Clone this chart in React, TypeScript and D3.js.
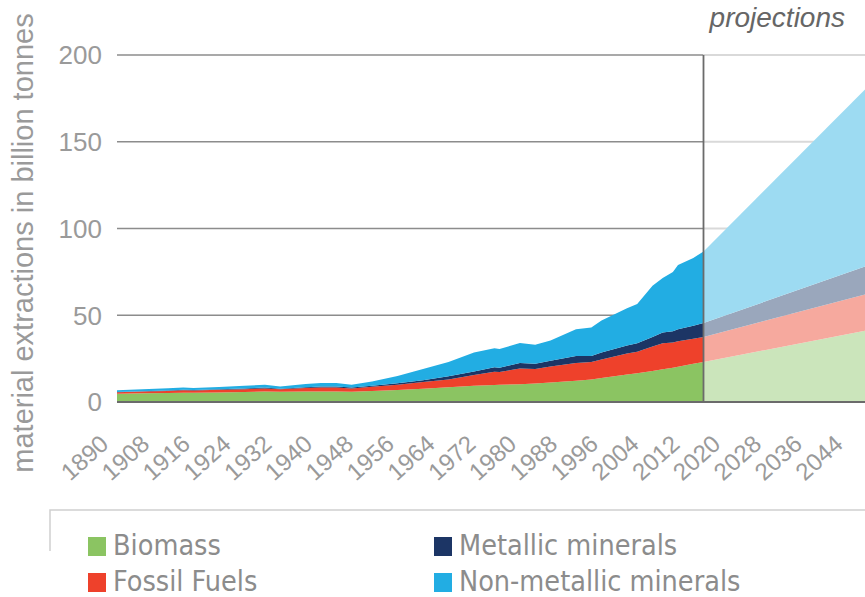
import React from "react";
import * as d3 from "d3";

// ---- data (billion tonnes) ----
const histYears = [1900,1905,1910,1913,1915,1920,1925,1929,1932,1937,1940,1943,1946,1950,1955,1960,1965,1970,1974,1975,1979,1982,1985,1990,1993,1995,2000,2002,2005,2007,2009,2010,2013,2015];
const biomass = [4.8,5.0,5.2,5.4,5.3,5.5,5.8,6.0,5.9,6.1,6.1,6.0,5.9,6.4,6.9,7.7,8.5,9.3,9.8,9.9,10.3,10.6,11.2,12.3,13.0,13.8,15.8,16.5,17.8,18.9,19.8,20.3,22.0,23.0];
const fossilFuels = [0.8,1.0,1.2,1.4,1.3,1.5,1.6,1.8,1.5,1.9,2.2,2.3,1.9,2.4,3.1,3.8,4.5,6.2,7.7,7.4,9.0,8.4,9.3,10.2,10.0,10.7,12.2,12.5,14.2,14.9,14.5,14.7,14.5,14.5];
const metallic = [0.2,0.2,0.3,0.3,0.3,0.3,0.4,0.5,0.3,0.5,0.6,0.6,0.5,0.6,0.8,1.1,1.8,2.1,2.5,2.5,3.2,3.0,3.3,4.0,3.5,4.0,4.5,4.8,5.5,6.2,6.5,7.0,7.5,8.0];
const nonMetallic = [1.0,1.1,1.2,1.3,1.2,1.3,1.5,1.7,1.3,1.9,2.1,2.0,1.7,2.4,4.2,6.4,8.2,10.9,11.0,10.7,11.5,11.0,11.7,15.5,16.5,18.5,21.5,22.7,29.5,31.5,34.2,37.0,39.0,41.3];

const projYears = [2015, 2050];
const projBiomass = [23.0, 43.0];
const projFossil = [14.5, 21.5];
const projMetallic = [8.0, 17.0];
const projNonMetallic = [41.3, 108.5];

const yTicks = [0, 50, 100, 150, 200];
const xTickYears = [1900,1908,1916,1924,1932,1940,1948,1956,1964,1972,1980,1988,1996,2004,2012,2020,2028,2036,2044];
const xTickLabels = ["1890","1908","1916","1924","1932","1940","1948","1956","1964","1972","1980","1988","1996","2004","2012","2020","2028","2036","2044"];
const projectionStart = 2015;

const keys = ["biomass", "fossil", "metallic", "nonmetallic"];
const legendLabels = ["Biomass", "Fossil Fuels", "Metallic minerals", "Non-metallic minerals"];
const histColors = ["#8bc462", "#ee412b", "#1c3565", "#22ade3"];
const projColors = ["#cbe5bb", "#f6a99e", "#9aa7bc", "#9ddbf2"];

export default function App() {
  const W = 865, H = 597;
  const x = d3.scaleLinear().domain([1900, 2050]).range([117, 117 + 150 * 5.1]);
  const y = d3.scaleLinear().domain([0, 200]).range([402, 55]);
  const xProj = x(projectionStart);

  const histRows = histYears.map((yr, i) => ({
    year: yr, biomass: biomass[i], fossil: fossilFuels[i], metallic: metallic[i], nonmetallic: nonMetallic[i],
  }));
  const projRows = projYears.map((yr, i) => ({
    year: yr, biomass: projBiomass[i], fossil: projFossil[i], metallic: projMetallic[i], nonmetallic: projNonMetallic[i],
  }));
  const stack = d3.stack<any>().keys(keys);
  const histStack = stack(histRows);
  const projStack = stack(projRows);
  const area = d3.area<any>().x((d) => x(d.data.year)).y0((d) => y(d[0])).y1((d) => y(d[1]));

  const axisFont = "'Liberation Sans', Arial, sans-serif";
  const legendFont = "'Liberation Sans Narrow', 'DejaVu Sans Condensed', sans-serif";

  return (
    <svg width={W} height={H} style={{ position: "absolute", left: 0, top: 0, background: "#fff" }}>
      {/* gridlines */}
      {yTicks.filter((t) => t > 0).map((t) => (
        <g key={t}>
          <line x1={x(1900)} x2={xProj} y1={y(t)} y2={y(t)} stroke="#8c8c8c" strokeWidth={1.6} />
          <line x1={xProj} x2={W} y1={y(t)} y2={y(t)} stroke="#d9d9d9" strokeWidth={2} />
        </g>
      ))}
      {/* areas */}
      {histStack.map((s, i) => (
        <path key={"h" + i} d={area(s) || ""} fill={histColors[i]} />
      ))}
      {projStack.map((s, i) => (
        <path key={"p" + i} d={area(s) || ""} fill={projColors[i]} />
      ))}
      {/* projection divider & baseline */}
      <line x1={xProj} x2={xProj} y1={y(200)} y2={y(0)} stroke="#6b6b6b" strokeWidth={1.8} />
      <line x1={x(1900)} x2={W} y1={y(0)} y2={y(0)} stroke="#6b6b6b" strokeWidth={2} />
      {/* y tick labels */}
      {yTicks.map((t) => (
        <text key={t} x={102} y={y(t)} dy="0.36em" textAnchor="end" fontFamily={axisFont} fontSize={26} fill="#9a9a9a">
          {t}
        </text>
      ))}
      {/* y title */}
      <text transform={`translate(33,243) rotate(-90)`} textAnchor="middle" fontFamily={axisFont} fontSize={29} fill="#9a9a9a">
        material extractions in billion tonnes
      </text>
      {/* x tick labels */}
      {xTickYears.map((yr, i) => (
        <text key={yr} transform={`translate(${x(yr) - 7},${446}) rotate(-42)`} textAnchor="end" fontFamily={axisFont} fontSize={24} fill="#9a9a9a">
          {xTickLabels[i]}
        </text>
      ))}
      {/* projections label */}
      <text x={845} y={27} textAnchor="end" fontFamily={axisFont} fontStyle="italic" fontSize={28} fill="#666">
        projections
      </text>
      {/* legend box */}
      <path d="M50,551 V510 H865" fill="none" stroke="#d0d0d0" strokeWidth={1.5} />
      {legendLabels.map((lab, i) => {
        const col = i < 2 ? 0 : 1;
        const row = i % 2;
        const lx = col === 0 ? 88 : 434;
        const ly = row === 0 ? 537 : 573;
        return (
          <g key={lab}>
            <rect x={lx} y={ly} width={18} height={19} fill={histColors[i]} />
            <text x={lx + 25} y={ly + 18} fontFamily={legendFont} fontSize={28.5} fill="#8c8c8c">
              {lab}
            </text>
          </g>
        );
      })}
    </svg>
  );
}
